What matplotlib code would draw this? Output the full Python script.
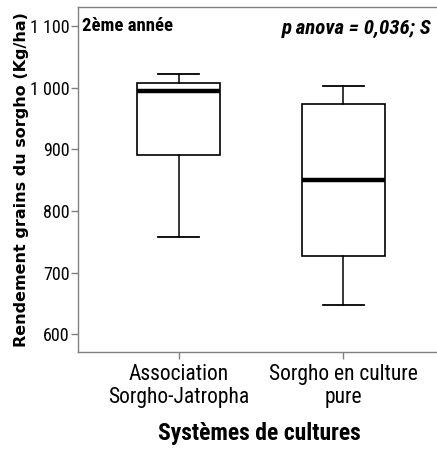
import matplotlib
matplotlib.use("Agg")
import matplotlib.pyplot as plt

# valeurs
systemes = ["Association\nSorgho-Jatropha", "Sorgho en culture\npure"]
whis_bas = [757, 648]
q1 = [890, 727]
mediane = [995, 850]
q3 = [1008, 973]
whis_haut = [1023, 1003]
yticks = [600, 700, 800, 900, 1000, 1100]
ytick_labels = ["600", "700", "800", "900", "1 000", "1 100"]

narrow = ["Roboto Condensed", "DejaVu Sans"]

fig = plt.figure(figsize=(4.37, 4.50), dpi=100)
ax = fig.add_axes([0.1785, 0.2178, 0.83, 0.7667])

stats = []
for i in range(len(systemes)):
    stats.append(dict(med=mediane[i], q1=q1[i], q3=q3[i],
                      whislo=whis_bas[i], whishi=whis_haut[i], fliers=[]))

ax.bxp(stats, positions=[1, 2], widths=0.5, showfliers=False,
       patch_artist=True,
       boxprops=dict(facecolor="white", edgecolor="black", linewidth=1.2),
       medianprops=dict(color="black", linewidth=3.2),
       whiskerprops=dict(color="black", linewidth=1.1),
       capprops=dict(color="black", linewidth=1.3),
       capwidths=0.25)

ax.set_xlim(0.39, 2.59)
ax.set_ylim(571, 1131)
ax.set_yticks(yticks)
ax.set_yticklabels(ytick_labels, family=narrow, fontsize=13)
ax.set_xticks([1, 2])
ax.set_xticklabels(systemes, family=narrow, fontsize=15.5, linespacing=1.08)

for s in ["left", "bottom", "top"]:
    ax.spines[s].set_color("#808080")
    ax.spines[s].set_linewidth(1.0)
ax.spines["right"].set_visible(False)
ax.tick_params(axis="both", colors="#808080", length=5, width=1, labelcolor="black")
ax.tick_params(axis="y", pad=1)
ax.tick_params(axis="x", pad=4)

ax.set_ylabel("Rendement grains du sorgho (Kg/ha)", family="DejaVu Sans",
              fontweight="bold", fontsize=11.5, labelpad=1)
ax.set_xlabel("Systèmes de cultures", family=narrow, fontweight="bold",
              fontsize=17, labelpad=10)

ax.text(0.012, 0.97, "2ème année", transform=ax.transAxes, family=narrow,
        fontweight="bold", fontsize=13.5, ha="left", va="top")
ax.text(0.975, 0.965, "p anova = 0,036; S", transform=ax.transAxes, family=narrow,
        fontweight="bold", fontstyle="italic", fontsize=15, ha="right", va="top")

fig.savefig("out.png", dpi=100)
plt.close()
